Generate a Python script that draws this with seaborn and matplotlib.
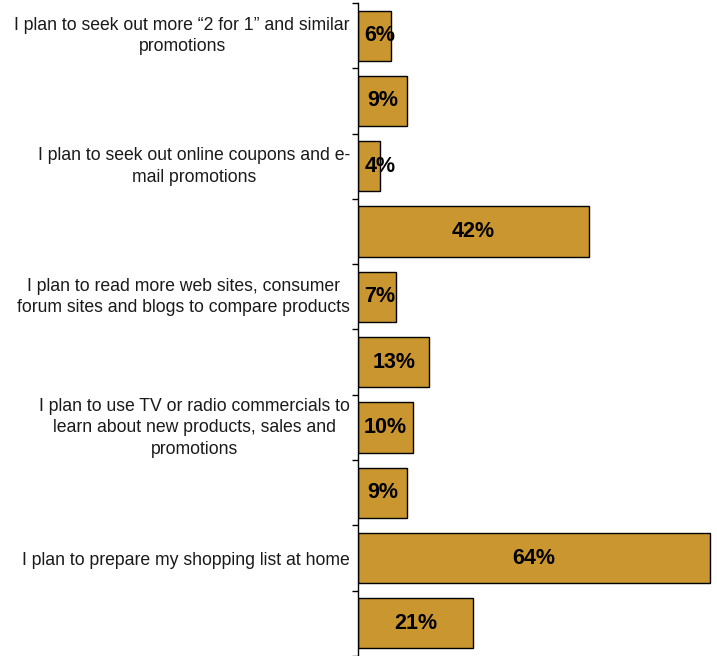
import matplotlib
matplotlib.use("Agg")
import matplotlib.pyplot as plt
import matplotlib.transforms as mtransforms
import seaborn as sns
import pandas as pd
import numpy as np

# Survey statements (every other bar carries a statement label)
labels = [
    "I plan to seek out more \u201c2 for 1\u201d and similar\npromotions",
    "",
    "I plan to seek out online coupons and e-\nmail promotions",
    "",
    "I plan to read more web sites, consumer\nforum sites and blogs to compare products",
    "",
    "I plan to use TV or radio commercials to\nlearn about new products, sales and\npromotions",
    "",
    "I plan to prepare my shopping list at home",
    "",
]
values = [6, 9, 4, 42, 7, 13, 10, 9, 64, 21]

rows = [f"r{i}" for i in range(len(values))]
df = pd.DataFrame({"row": rows, "pct": values})

sns.set_style("white")
plt.rcParams["font.family"] = ["Liberation Sans", "DejaVu Sans"]

fig = plt.figure(figsize=(7.17, 6.56), dpi=100)
ax = fig.add_axes([358 / 717, 0.0, (715 - 358) / 717, 1 - 3 / 656])

sns.barplot(data=df, y="row", x="pct", orient="h", color="#CA9630",
            saturation=1, width=0.77, edgecolor="black", linewidth=1.0, ax=ax)

ax.set_xlim(0, 65)
ax.set_ylim(len(values) - 0.5, -0.5)
ax.set_xlabel("")
ax.set_ylabel("")
ax.set_xticks([])

# statement labels at bar centres, boundary ticks between categories
ax.set_yticks(np.arange(len(values)))
ax.set_yticklabels(labels, fontsize=12.7, linespacing=1.35, multialignment="center",
                   color="#1a1a1a")
ax.tick_params(axis="y", which="major", left=True, length=0, pad=5.8)
ax.set_yticks(np.arange(-0.5, len(values), 1.0), minor=True)
ax.tick_params(axis="y", which="minor", left=True, length=4, width=1,
               direction="out", color="black")

# nudge wrapped labels up so their text block sits centred on the bar
lift = mtransforms.ScaledTranslation(0, 4 / 100, fig.dpi_scale_trans)
for lbl in ax.get_yticklabels():
    if "\n" in lbl.get_text():
        lbl.set_transform(lbl.get_transform() + lift)

for s in ["top", "right", "bottom"]:
    ax.spines[s].set_visible(False)
ax.spines["left"].set_color("black")
ax.spines["left"].set_linewidth(1.0)

# value labels inside the bars
for i, v in enumerate(values):
    ax.text(max(v / 2, 4.0), i, f"{v}%", ha="center", va="center",
            fontsize=15.5, fontweight="bold", color="black")

fig.savefig("out.png", dpi=100)
